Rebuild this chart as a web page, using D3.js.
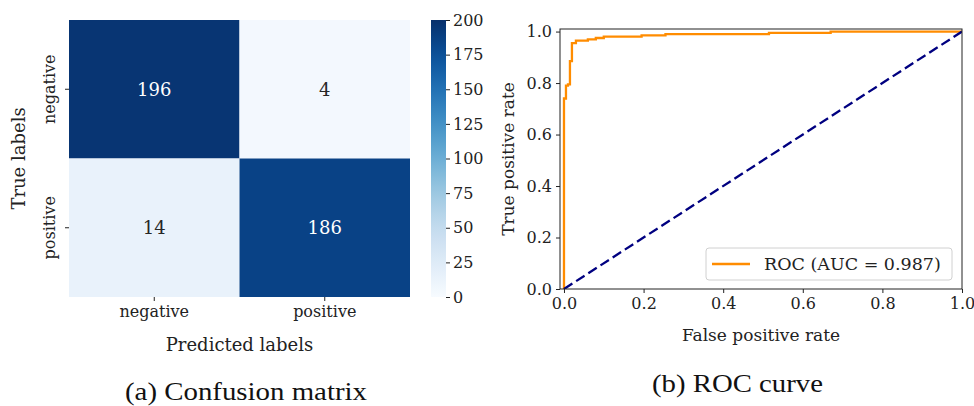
<!DOCTYPE html>
<html>
<head>
<meta charset="utf-8">
<script src="https://cdn.jsdelivr.net/npm/d3@7"></script>
<style>
  body { margin: 0; background: #fff; }
  svg text { font-family: "DejaVu Serif", serif; fill: #222; }
  .axis path, .axis line { stroke: #222; }
</style>
</head>
<body>
<div id="chart"></div>
<script>
// ---------- data ----------
var classLabels = ["negative", "positive"];
var confusionRows = [[196, 4], [14, 186]];   // rows = true, cols = predicted
var colorbarTicks = [0, 25, 50, 75, 100, 125, 150, 175, 200];

var rocFpr = [0, 0, 0.005, 0.01, 0.015, 0.02, 0.03, 0.06, 0.08, 0.1, 0.195, 0.255, 0.515, 0.67, 1];
var rocTpr = [0, 0.74, 0.79, 0.795, 0.885, 0.955, 0.965, 0.97, 0.975, 0.98, 0.985, 0.99, 0.995, 1, 1];
var chanceFpr = [0, 1];
var chanceTpr = [0, 1];
var rocTicks = [0, 0.2, 0.4, 0.6, 0.8, 1.0];
var legendLabel = "ROC (AUC = 0.987)";

var captions = ["(a) Confusion matrix", "(b) ROC curve"];

// ---------- svg ----------
var svg = d3.select("#chart").append("svg")
	.attr("width", 974)
	.attr("height", 406);

// ================= confusion matrix =================
var hm = {left: 69, right: 410, top: 20, bottom: 297};

var xBand = d3.scaleBand().domain(classLabels).range([hm.left, hm.right]);
var yBand = d3.scaleBand().domain(classLabels).range([hm.top, hm.bottom]);
var color = d3.scaleSequential(d3.interpolateBlues).domain([0, 200]);

var cells = [];
confusionRows.forEach(function(row, i) {
	row.forEach(function(v, j) {
		cells.push({t: classLabels[i], p: classLabels[j], v: v});
	});
});

var gHm = svg.append("g");

gHm.selectAll("rect.cell")
	.data(cells)
	.enter().append("rect")
	.attr("class", "cell")
	.attr("x", function(d) { return xBand(d.p); })
	.attr("y", function(d) { return yBand(d.t); })
	.attr("width", xBand.bandwidth())
	.attr("height", yBand.bandwidth())
	.attr("fill", function(d) { return color(d.v); });

gHm.selectAll("text.annot")
	.data(cells)
	.enter().append("text")
	.attr("class", "annot")
	.attr("x", function(d) { return xBand(d.p) + xBand.bandwidth() / 2; })
	.attr("y", function(d) { return yBand(d.t) + yBand.bandwidth() / 2; })
	.attr("dy", "0.36em")
	.attr("text-anchor", "middle")
	.style("font-size", "18px")
	.style("fill", function(d) { return d.v > 100 ? "#fff" : "#262626"; })
	.text(function(d) { return d.v; });

// x axis (predicted)
var hmX = gHm.append("g")
	.attr("class", "axis")
	.attr("transform", "translate(0," + hm.bottom + ")")
	.call(d3.axisBottom(xBand).tickSize(4).tickPadding(5));
hmX.select(".domain").remove();
hmX.selectAll("text").style("font-size", "16px");

// y axis (true), labels rotated
var hmY = gHm.append("g")
	.attr("class", "axis")
	.attr("transform", "translate(" + hm.left + ",0)")
	.call(d3.axisLeft(yBand).tickSize(4));
hmY.select(".domain").remove();
hmY.selectAll("text")
	.attr("x", null).attr("dy", null)
	.attr("transform", "translate(-14,0) rotate(-90)")
	.attr("text-anchor", "middle")
	.attr("y", 0)
	.style("font-size", "16px");

gHm.append("text")
	.attr("x", (hm.left + hm.right) / 2)
	.attr("y", 351)
	.attr("text-anchor", "middle")
	.style("font-size", "18px")
	.text("Predicted labels");

gHm.append("text")
	.attr("transform", "translate(25," + ((hm.top + hm.bottom) / 2) + ") rotate(-90)")
	.attr("text-anchor", "middle")
	.style("font-size", "18px")
	.text("True labels");

// colorbar
var cb = {x: 431, w: 15};
var cbScale = d3.scaleLinear().domain([0, 200]).range([hm.bottom, hm.top]);

var grad = svg.append("defs").append("linearGradient")
	.attr("id", "cbGrad")
	.attr("x1", 0).attr("y1", 1).attr("x2", 0).attr("y2", 0);
d3.range(0, 1.0001, 0.05).forEach(function(t) {
	grad.append("stop")
		.attr("offset", t)
		.attr("stop-color", d3.interpolateBlues(t));
});

gHm.append("rect")
	.attr("x", cb.x)
	.attr("y", hm.top)
	.attr("width", cb.w)
	.attr("height", hm.bottom - hm.top)
	.attr("fill", "url(#cbGrad)");

var cbAxis = gHm.append("g")
	.attr("class", "axis")
	.attr("transform", "translate(" + (cb.x + cb.w) + ",0)")
	.call(d3.axisRight(cbScale).tickValues(colorbarTicks).tickSize(4).tickPadding(3));
cbAxis.select(".domain").remove();
cbAxis.selectAll("text").style("font-size", "16px");

// ================= ROC curve =================
var rc = {left: 560, right: 962, top: 29, bottom: 289};
var x = d3.scaleLinear().domain([-0.01, 1.0]).range([rc.left, rc.right]);
var y = d3.scaleLinear().domain([0, 1.01]).range([rc.bottom, rc.top]);

var gRoc = svg.append("g");

gRoc.append("clipPath").attr("id", "rocClip")
	.append("rect")
	.attr("x", rc.left).attr("y", rc.top)
	.attr("width", rc.right - rc.left).attr("height", rc.bottom - rc.top);

var line = d3.line()
	.x(function(d) { return x(d[0]); })
	.y(function(d) { return y(d[1]); });

gRoc.append("path")
	.datum(d3.zip(rocFpr, rocTpr))
	.attr("clip-path", "url(#rocClip)")
	.attr("fill", "none")
	.attr("stroke", "#ff8c00")
	.attr("stroke-width", 2.3)
	.attr("d", line.curve(d3.curveStepAfter));

gRoc.append("path")
	.datum(d3.zip(chanceFpr, chanceTpr))
	.attr("clip-path", "url(#rocClip)")
	.attr("fill", "none")
	.attr("stroke", "#000080")
	.attr("stroke-width", 2.3)
	.attr("stroke-dasharray", "10,4.5")
	.attr("d", line.curve(d3.curveLinear));

var rocX = gRoc.append("g")
	.attr("class", "axis")
	.attr("transform", "translate(0," + rc.bottom + ")")
	.call(d3.axisBottom(x).tickValues(rocTicks).tickFormat(d3.format(".1f")).tickSize(4).tickPadding(5));
rocX.select(".domain").remove();
rocX.selectAll("text").style("font-size", "16px");

var rocY = gRoc.append("g")
	.attr("class", "axis")
	.attr("transform", "translate(" + rc.left + ",0)")
	.call(d3.axisLeft(y).tickValues(rocTicks).tickFormat(d3.format(".1f")).tickSize(4).tickPadding(4));
rocY.select(".domain").remove();
rocY.selectAll("text").style("font-size", "16px");

// frame
gRoc.append("rect")
	.attr("x", rc.left).attr("y", rc.top)
	.attr("width", rc.right - rc.left).attr("height", rc.bottom - rc.top)
	.attr("fill", "none")
	.attr("stroke", "#222")
	.attr("stroke-width", 1);

gRoc.append("text")
	.attr("x", (rc.left + rc.right) / 2)
	.attr("y", 341)
	.attr("text-anchor", "middle")
	.style("font-size", "17px")
	.text("False positive rate");

gRoc.append("text")
	.attr("transform", "translate(514," + ((rc.top + rc.bottom) / 2) + ") rotate(-90)")
	.attr("text-anchor", "middle")
	.style("font-size", "17px")
	.text("True positive rate");

// legend
var lg = gRoc.append("g").attr("transform", "translate(706,248)");
lg.append("rect")
	.attr("width", 246).attr("height", 32).attr("rx", 3)
	.attr("fill", "#fff").attr("fill-opacity", 0.8)
	.attr("stroke", "#d0d0d0");
lg.append("line")
	.attr("x1", 6).attr("x2", 44).attr("y1", 16).attr("y2", 16)
	.attr("stroke", "#ff8c00").attr("stroke-width", 2.3);
lg.append("text")
	.attr("x", 58).attr("y", 16).attr("dy", "0.36em")
	.style("font-size", "17.5px")
	.text(legendLabel);

// ================= captions =================
svg.selectAll("text.caption")
	.data(captions)
	.enter().append("text")
	.attr("class", "caption")
	.attr("x", function(d, i) { return i == 0 ? 125 : 652; })
	.attr("y", function(d, i) { return i == 0 ? 400 : 392; })
	.attr("textLength", function(d, i) { return i == 0 ? 242 : 171; })
	.attr("lengthAdjust", "spacingAndGlyphs")
	.style("font-family", "'Liberation Serif', serif")
	.style("font-size", "26px")
	.style("fill", "#111")
	.text(function(d) { return d; });
</script>
</body>
</html>
